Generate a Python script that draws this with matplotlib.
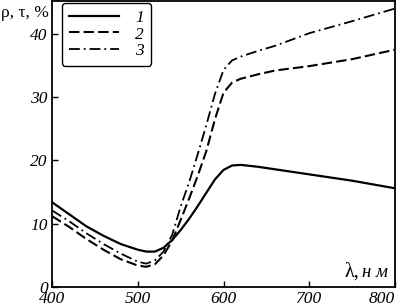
import matplotlib
matplotlib.use("Agg")
import matplotlib.pyplot as plt

# wavelength grid, nm
wl = [400, 420, 440, 460, 480, 500, 510, 520, 530, 540, 550, 560, 570,
      580, 590, 600, 610, 620, 640, 660, 700, 750, 800]

# curve 1 (solid)
c1 = [13.4, 11.5, 9.6, 8.1, 6.8, 5.9, 5.6, 5.6, 6.2, 7.4, 9.0, 10.8, 12.8,
      14.9, 17.0, 18.5, 19.2, 19.3, 19.0, 18.6, 17.8, 16.8, 15.6]
# curve 2 (dashed)
c2 = [11.2, 9.5, 7.6, 5.9, 4.4, 3.4, 3.2, 3.6, 5.0, 7.3, 10.6, 14.0, 17.6,
      21.5, 26.5, 30.7, 32.3, 32.9, 33.6, 34.2, 34.9, 36.0, 37.5]
# curve 3 (dash-dot)
c3 = [12.1, 10.4, 8.5, 6.8, 5.3, 4.0, 3.7, 4.2, 5.6, 8.2, 12.7, 16.6, 21.0,
      25.6, 30.5, 34.3, 35.8, 36.4, 37.3, 38.1, 40.1, 42.0, 44.0]

labels = ["1", "2", "3"]
xticks = [400, 500, 600, 700, 800]
yticks = [0, 10, 20, 30, 40]

SERIF = "Liberation Serif"

fig = plt.figure(figsize=(3.97, 3.07), dpi=100)
ax = fig.add_axes([0.131, 0.065, 0.864, 0.932])

ax.plot(wl, c1, color="black", lw=1.6, ls="-", label=labels[0])
ax.plot(wl, c2, color="black", lw=1.5, ls=(0, (5, 2)), label=labels[1])
ax.plot(wl, c3, color="black", lw=1.3, ls=(0, (6, 2.2, 1, 2.2)), label=labels[2])

ax.set_xlim(400, 800)
ax.set_ylim(0, 45.2)
ax.set_xticks(xticks)
ax.set_yticks(yticks)
ax.tick_params(direction="in", length=4, width=1, pad=3)
for lab in ax.get_xticklabels() + ax.get_yticklabels():
    lab.set_fontfamily(SERIF)
    lab.set_fontstyle("italic")
    lab.set_fontsize(12.5)
# last x label sits inside the figure edge
ax.get_xticklabels()[-1].set_horizontalalignment("right")
for s in ax.spines.values():
    s.set_linewidth(1.3)

fig.text(0.003, 0.957, "ρ, τ, %", fontfamily=SERIF, fontsize=12.5,
         ha="left", va="center")
ax.text(0.853, 0.052, "λ,", transform=ax.transAxes, fontfamily=SERIF,
        fontsize=14.5, ha="left", va="center")
ax.text(0.903, 0.052, "н м", transform=ax.transAxes, fontfamily=SERIF,
        fontsize=13.5, fontstyle="italic", ha="left", va="center")

leg = ax.legend(loc="upper left", bbox_to_anchor=(0.029, 0.993),
                handlelength=2.85, handletextpad=0.95, borderpad=0.42,
                labelspacing=0.0, borderaxespad=0, frameon=True,
                fancybox=True,
                prop={"family": SERIF, "style": "italic", "size": 12.5})
leg.get_frame().set_edgecolor("black")
leg.get_frame().set_linewidth(1.0)
leg.get_frame().set_alpha(1)

fig.savefig("out.png", dpi=100)
